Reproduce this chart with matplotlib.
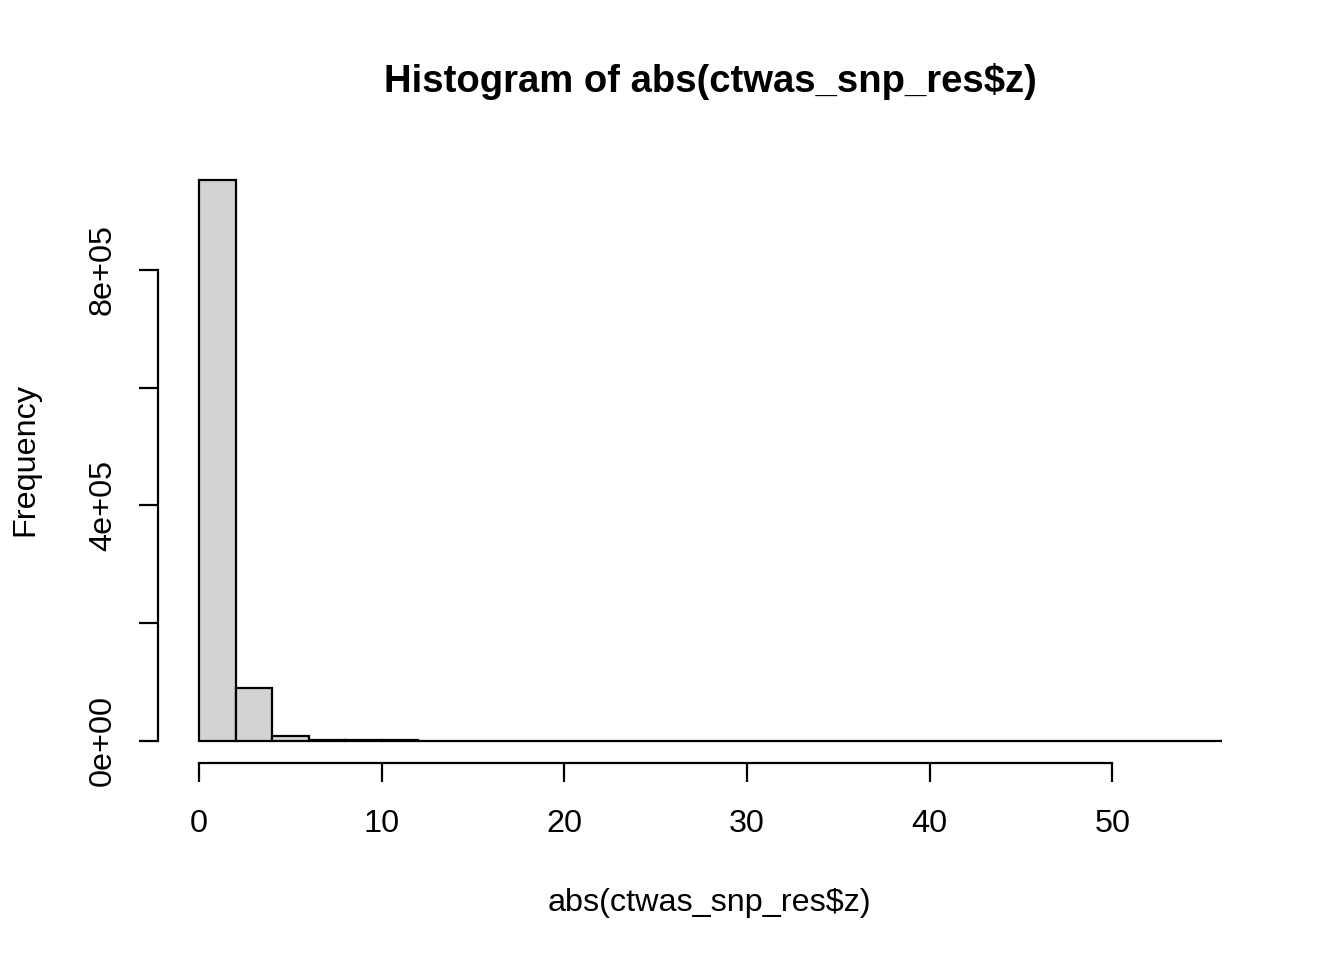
import numpy as np
import matplotlib.pyplot as plt

plt.rcParams['font.family'] = ['Liberation Sans', 'DejaVu Sans']

# histogram of abs(z), bins of width 2
bin_edges = np.arange(0, 58, 2)
counts = [953000, 90000, 8500, 1500, 400, 150, 70, 40, 25, 15, 10, 8,
          6, 5, 4, 3, 3, 2, 2, 1, 1, 1, 1, 1, 1, 1, 1, 1]
x_ticks = [0, 10, 20, 30, 40, 50]
y_ticks = [0, 200000, 400000, 600000, 800000]
y_ticklabels = ["0e+00", "", "4e+05", "", "8e+05"]

fig = plt.figure(figsize=(13.44, 9.6), dpi=100)
ax = fig.add_axes([0.1176, 0.2052, 0.822, 0.6307])

ax.bar(bin_edges[:-1], counts, width=2, align='edge', color='#d3d3d3',
       edgecolor='black', linewidth=1.6)

ax.set_xlim(-2.24, 58.24)
ax.set_ylim(-0.04 * 953000, 1.04 * 953000)

for s in ['top', 'right']:
    ax.spines[s].set_visible(False)
ax.spines['bottom'].set_bounds(0, 50)
ax.spines['left'].set_bounds(0, 800000)
ax.spines['bottom'].set_linewidth(1.6)
ax.spines['left'].set_linewidth(1.6)

ax.set_xticks(x_ticks)
ax.set_xticklabels([str(v) for v in x_ticks], fontsize=23.3)
ax.set_yticks(y_ticks)
ax.set_yticklabels(y_ticklabels, fontsize=23.3, rotation=90, va='center')
ax.tick_params(direction='out', length=14, width=1.6)
ax.tick_params(axis='x', pad=19)
ax.tick_params(axis='y', pad=15)

fig.text(0.528, 0.0595, "abs(ctwas_snp_res$z)", fontsize=23.3,
         ha='center', va='center')
fig.text(0.0186, 0.521, "Frequency", fontsize=23.3, rotation=90,
         ha='center', va='center')
fig.text(0.5286, 0.9147, "Histogram of abs(ctwas_snp_res$z)", fontsize=27.5,
         fontweight='bold', ha='center', va='center')

fig.savefig("out.png", dpi=100)
